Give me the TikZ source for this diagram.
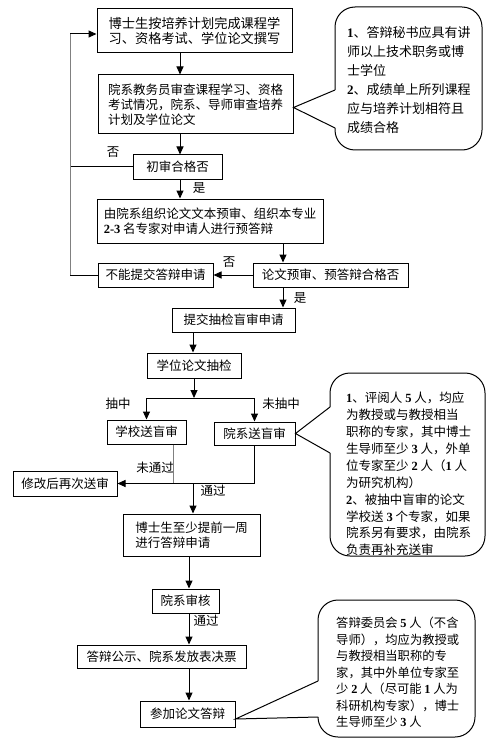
\documentclass[tikz,border=0pt]{standalone}
\usepackage{fontspec}
\setmainfont{Noto Sans CJK SC}
\newfontfamily\latn{Liberation Serif}
\usetikzlibrary{arrows.meta,calc}
\newcommand{\dg}[1]{{\latn\bfseries #1}}
\tikzset{
  box/.style={draw, line width=1pt, inner sep=0pt, align=left,
    font=\fontsize{12.5}{15}\selectfont},
  lbl/.style={inner sep=0pt, font=\fontsize{12.5}{15}\selectfont},
  ctext/.style={inner sep=0pt, anchor=west, align=left},
  arr/.style={line width=1pt, -{Triangle[length=8pt,width=7pt]}},
  ln/.style={line width=1pt},
  gln/.style={line width=1pt, draw=black!50},
  callout/.style={line width=1pt, rounded corners=20pt},
}
\begin{document}
\begin{tikzpicture}[x=1pt,y=-1pt]
\useasboundingbox (0,0) rectangle (497,746);
\fill[white] (0,0) rectangle (497,746);

% column coordinates
\coordinate (cA) at (180,0);
\coordinate (cR) at (283,0);
\coordinate (cD) at (193,0);
\coordinate (cL) at (147,0);
\coordinate (cS) at (173,0);
\coordinate (cC) at (189,0);
\coordinate (fb) at (70,0);
\coordinate (j1) at (0,398);

% boxes
\node[box, font=\fontsize{13.2}{15.5}\selectfont, minimum width=195pt, minimum height=44pt] (b1) at (194.5,31)
  {博士生按培养计划完成课程学\\习、资格考试、学位论文撰写};
\node[box, minimum width=195pt, minimum height=59pt] (b2) at (195.5,104.5)
  {院系教务员审查课程学习、资格\\考试情况，院系、导师审查培养\\计划及学位论文};
\node[box, minimum width=89pt, minimum height=24pt] (b3) at (177.5,167) {初审合格否};
\node[box, minimum width=226pt, minimum height=44pt] (b4) at (210,221)
  {由院系组织论文文本预审、组织本专业\\\dg{2-3} 名专家对申请人进行预答辩};
\node[box, minimum width=115pt, minimum height=24pt] (bN) at (155.5,275) {不能提交答辩申请};
\node[box, minimum width=155pt, minimum height=24pt] (b5) at (330.5,275) {论文预审、预答辩合格否};
\node[box, minimum width=123pt, minimum height=24pt] (b6) at (233.5,320) {提交抽检盲审申请};
\node[box, minimum width=94pt, minimum height=25pt] (b7) at (194,365.5) {学位论文抽检};
\node[box, minimum width=79pt, minimum height=24pt] (b8) at (146.5,432) {学校送盲审};
\node[box, minimum width=81pt, minimum height=23pt] (b9) at (254.5,433.5) {院系送盲审};
\node[box, minimum width=104pt, minimum height=25pt] (b10) at (65,483.5) {修改后再次送审};
\node[box, minimum width=137pt, minimum height=42pt] (b11) at (191.5,535)
  {博士生至少提前一周\\进行答辩申请};
\node[box, minimum width=67pt, minimum height=24pt] (b12) at (185.5,601) {院系审核};
\node[box, minimum width=169pt, minimum height=23pt] (b13) at (161.5,656.5) {答辩公示、院系发放表决票};
\node[box, minimum width=95pt, minimum height=26pt] (b14) at (187.5,714) {参加论文答辩};

% labels
\node[lbl] (l1) at (113,152) {否};
\node[lbl] (l2) at (199,188) {是};
\node[lbl] (l3) at (229,262) {否};
\node[lbl] (l4) at (300,298) {是};
\node[lbl] (l5) at (118,404) {抽中};
\node[lbl] (l6) at (281,404) {未抽中};
\node[lbl] (l7) at (155,468) {未通过};
\node[lbl] (l8) at (213,491) {通过};
\node[lbl] (l9) at (206,621) {通过};

% connectors
\draw[arr] (b1.south -| cA) -- (b2.north -| cA);
\draw[arr] (b2.south -| cA) -- (b3.north -| cA);
\draw[arr] (b3.south -| cA) -- (b4.north -| cA);
\draw[ln] (b3.west) -- (b3.west -| fb);
\draw[ln] (bN.west) -- (bN.west -| fb);
\draw[gln] (bN.west -| fb) -- ([yshift=-3pt]b1.west -| fb);
\draw[arr] ([yshift=-3pt]b1.west -| fb) -- ([yshift=-3pt]b1.west);
\draw[arr] (b4.south -| cR) -- (b5.north -| cR);
\draw[arr] (b5.west) -- (bN.east);
\draw[arr] (b5.south -| cR) -- (b6.north -| cR);
\draw[arr] (b6.south -| cD) -- (b7.north -| cD);
\draw[arr] (b7.south) -- (b7.south |- j1);
\draw[ln] (j1 -| b8.north) -- (j1 -| b9.north);
\draw[arr] (j1 -| b8.north) -- (b8.north);
\draw[arr] (j1 -| b9.north) -- (b9.north);
\draw[gln] (b8.south -| cS) -- (b10.east -| cS);
\draw[ln] (b9.south) -- (b9.south |- b10.east);
\draw[arr] (b9.south |- b10.east) -- (b10.east);
\draw[arr] (b10.east -| cD) -- (b11.north -| cD);
\draw[arr] (b11.south -| cC) -- (b12.north -| cC);
\draw[arr] (b12.south -| cC) -- (b13.north -| cC);
\draw[arr] (b13.south -| cC) -- (b14.north -| cC);

% callout 1
\draw[callout] (335,90) -- (335,7) -- (482,7) -- (482,150) -- (335,150) -- (335,128);
\draw[line width=1pt, line join=miter] (335,90) -- ([yshift=-3pt]b2.east) -- (335,128);
\node[ctext, font=\fontsize{13}{19}\selectfont] (c1) at (347,80.5)
  {\dg{1}、答辩秘书应具有讲\\师以上技术职务或博\\士学位\\\dg{2}、成绩单上所列课程\\应与培养计划相符且\\成绩合格};

% callout 2
\draw[callout] (330,407) -- (330,373) -- (485,373) -- (485,556) -- (330,556) -- (330,453);
\draw[line width=1pt] (330,407) -- (b9.east) -- (330,453);
\node[ctext, font=\fontsize{12.5}{16.9}\selectfont] (c2) at (346,474)
  {\dg{1}、评阅人 \dg{5} 人，均应\\为教授或与教授相当\\职称的专家，其中博士\\生导师至少 \dg{3} 人，外单\\位专家至少 \dg{2} 人（\dg{1} 人\\为研究机构）\\\dg{2}、被抽中盲审的论文\\学校送 \dg{3} 个专家，如果\\院系另有要求，由院系\\负责再补充送审};

% callout 3
\draw[callout] (318,681) -- (318,600) -- (475,600) -- (475,737) -- (318,737) -- (318,717);
\draw[line width=1pt] (318,681) -- ([yshift=-5pt]b14.east) -- (318,717);
\node[ctext, font=\fontsize{12.3}{16.5}\selectfont] (c3) at (336,672.5)
  {答辩委员会 \dg{5} 人（不含\\导师），均应为教授或\\与教授相当职称的专\\家，其中外单位专家至\\少 \dg{2} 人（尽可能 \dg{1} 人为\\科研机构专家），博士\\生导师至少 \dg{3} 人};
\end{tikzpicture}
\end{document}
